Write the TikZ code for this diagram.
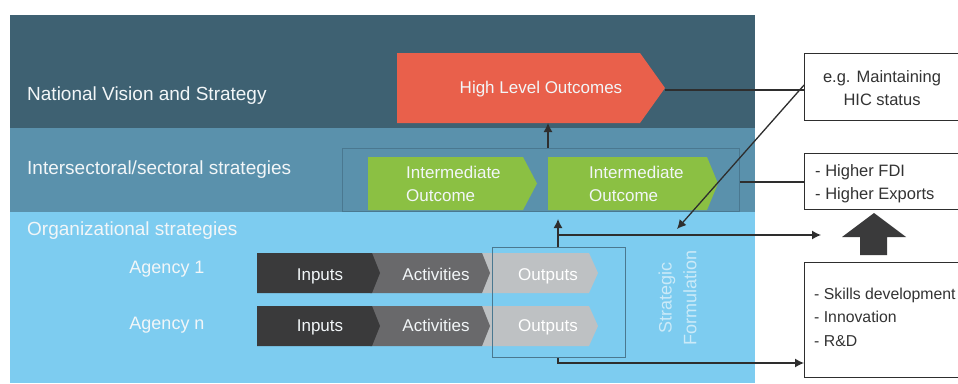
\documentclass[tikz,border=0pt]{standalone}
\usepackage{fontspec}
\setmainfont{Liberation Sans}
\usetikzlibrary{arrows.meta}

\definecolor{banddark}{HTML}{3E6172}
\definecolor{bandmid}{HTML}{5A91AC}
\definecolor{bandlight}{HTML}{7DCCF0}
\definecolor{hlored}{HTML}{E9604B}
\definecolor{imgreen}{HTML}{8BC043}
\definecolor{inpgray}{HTML}{3A3A3B}
\definecolor{actgray}{HTML}{69696B}
\definecolor{outgray}{HTML}{BEC1C3}
\definecolor{lineink}{HTML}{2E2E2E}
\definecolor{frameblue}{HTML}{4A7890}
\definecolor{paletext}{HTML}{F2F6F8}
\definecolor{sftext}{HTML}{CBEAF8}
\definecolor{boxtext}{HTML}{333333}

\tikzset{
  bandlabel/.style={text=paletext, inner sep=0pt, font=\fontsize{19}{23}\selectfont},
  agencylabel/.style={text=paletext, inner sep=0pt, font=\fontsize{18}{22}\selectfont},
  chevlabel/.style={text=paletext, inner sep=0pt, font=\fontsize{17}{23}\selectfont},
  sflabel/.style={text=sftext, inner sep=0pt, rotate=90, anchor=center, font=\fontsize{18}{23}\selectfont},
  framebox/.style={draw=frameblue, line width=0.9pt, inner sep=0pt},
  notebox/.style={draw=lineink, fill=white, line width=1.2pt, inner sep=0pt, minimum width=157pt, anchor=north west},
  notetext/.style={text=boxtext, inner sep=0pt, font=\fontsize{16.5}{23}\selectfont},
  conn/.style={draw=lineink, line width=1.3pt},
  arr/.style={conn, -{Latex[length=9pt,width=9pt]}},
}

% chevron: left x, top y, right corner x, tip x, bottom y, colour
\newcommand{\chevfill}[6]{%
  \fill[#6] (#1,#2) -- (#3,#2) -- (#4,{(#2+#5)/2}) -- (#3,#5) -- (#1,#5) -- cycle;}

\begin{document}
\begin{tikzpicture}[x=1pt,y=-1pt]
\useasboundingbox (0,0) rectangle (958,383);
\fill[white] (0,0) rectangle (958,383);

% strategy layers
\fill[banddark]  (10,15)  rectangle (755,128);
\fill[bandmid]   (10,128) rectangle (755,212);
\fill[bandlight] (10,212) rectangle (755,383);

\node[bandlabel, anchor=base west] (natl)  at (27,100) {National Vision and Strategy};
\node[bandlabel, anchor=base west] (inter) at (27,174) {Intersectoral/sectoral strategies};
\node[bandlabel, anchor=base west] (org)   at (27,235) {Organizational strategies};

% high level outcomes
\chevfill{397}{53}{640}{665}{123}{hlored}
\coordinate (hlotip) at (665,90);
\coordinate (hlobot) at (548,123);
\node[chevlabel, anchor=base] (hlo) at (541,93) {High Level Outcomes};

% intermediate outcomes
\node[framebox, minimum width=397pt, minimum height=63pt, anchor=north west] (ibox) at (342,148) {};
\chevfill{368}{157}{523}{537}{210}{imgreen}
\chevfill{548}{157}{707}{718}{210}{imgreen}
\node[chevlabel, align=left, anchor=west] (im1) at (406,184) {Intermediate\\Outcome};
\node[chevlabel, align=left, anchor=west] (im2) at (589,184) {Intermediate\\Outcome};

% agency chains
\node[agencylabel, anchor=base] (ag1) at (167,273) {Agency 1};
\node[agencylabel, anchor=base] (agn) at (167,329) {Agency n};

\foreach \ty/\by/\bl/\nm in {253/293/280/one, 306/346/331/two}{
  \chevfill{480}{\ty}{589}{598}{\by}{outgray}
  \chevfill{370}{\ty}{482}{490}{\by}{actgray}
  \chevfill{257}{\ty}{372}{380}{\by}{inpgray}
  \node[chevlabel, anchor=base] (inp\nm) at (320,\bl) {Inputs};
  \node[chevlabel, anchor=base] (act\nm) at (436,\bl) {Activities};
  \node[chevlabel, anchor=base, text=white] (out\nm) at (548,\bl) {Outputs};
}
\node[framebox, minimum width=133pt, minimum height=110pt, anchor=north west] (obox) at (492,247) {};

% rotated caption, one node per line, each centred on the same height
\node[sflabel] (sf1) at (667,298) {Strategic};
\node[sflabel] (sf2) at (690,298) {Formulation};

% notes on the right
\node[notebox, minimum height=67pt] (b1) at (804,53) {};
\node[notetext, align=center] (t1) at (882,88) {e.g. Maintaining\\HIC status};
\node[notebox, minimum height=56pt] (b2) at (804,153) {};
\node[notetext, align=left, anchor=west] (t2) at (815,184) {- Higher FDI\\- Higher Exports};
\node[notebox, minimum height=115pt] (b3) at (804,262) {};
\node[notetext, align=left, anchor=west, font=\fontsize{15.8}{23.5}\selectfont] (t3) at (814,317)
  {- Skills development\\- Innovation\\- R\&D};

% thick upward arrow between notes
\fill[inpgray] (842,237) -- (874,213) -- (906,237) -- (887,237) -- (887,255)
  -- (860,255) -- (860,237) -- cycle;

% connectors
\coordinate (sfend) at (677,229);
\coordinate (upend) at (558,219);
\coordinate (rightend) at (821,235);
\draw[conn] (hlotip) -- (hlotip -| b1.west);
\draw[arr] ([yshift=2pt]b1.west) -- (sfend);
\draw[conn] (ibox.east |- 0,182) -- (b2.west |- 0,182);
\draw[arr] (ibox.north -| hlobot) -- (hlobot);
\draw[arr] (obox.north -| upend) -- (upend);
\draw[arr] (upend |- rightend) -- (rightend);
\draw[arr] (obox.south -| upend) -- (558,363) -- (b3.west |- 0,363);
\end{tikzpicture}
\end{document}
